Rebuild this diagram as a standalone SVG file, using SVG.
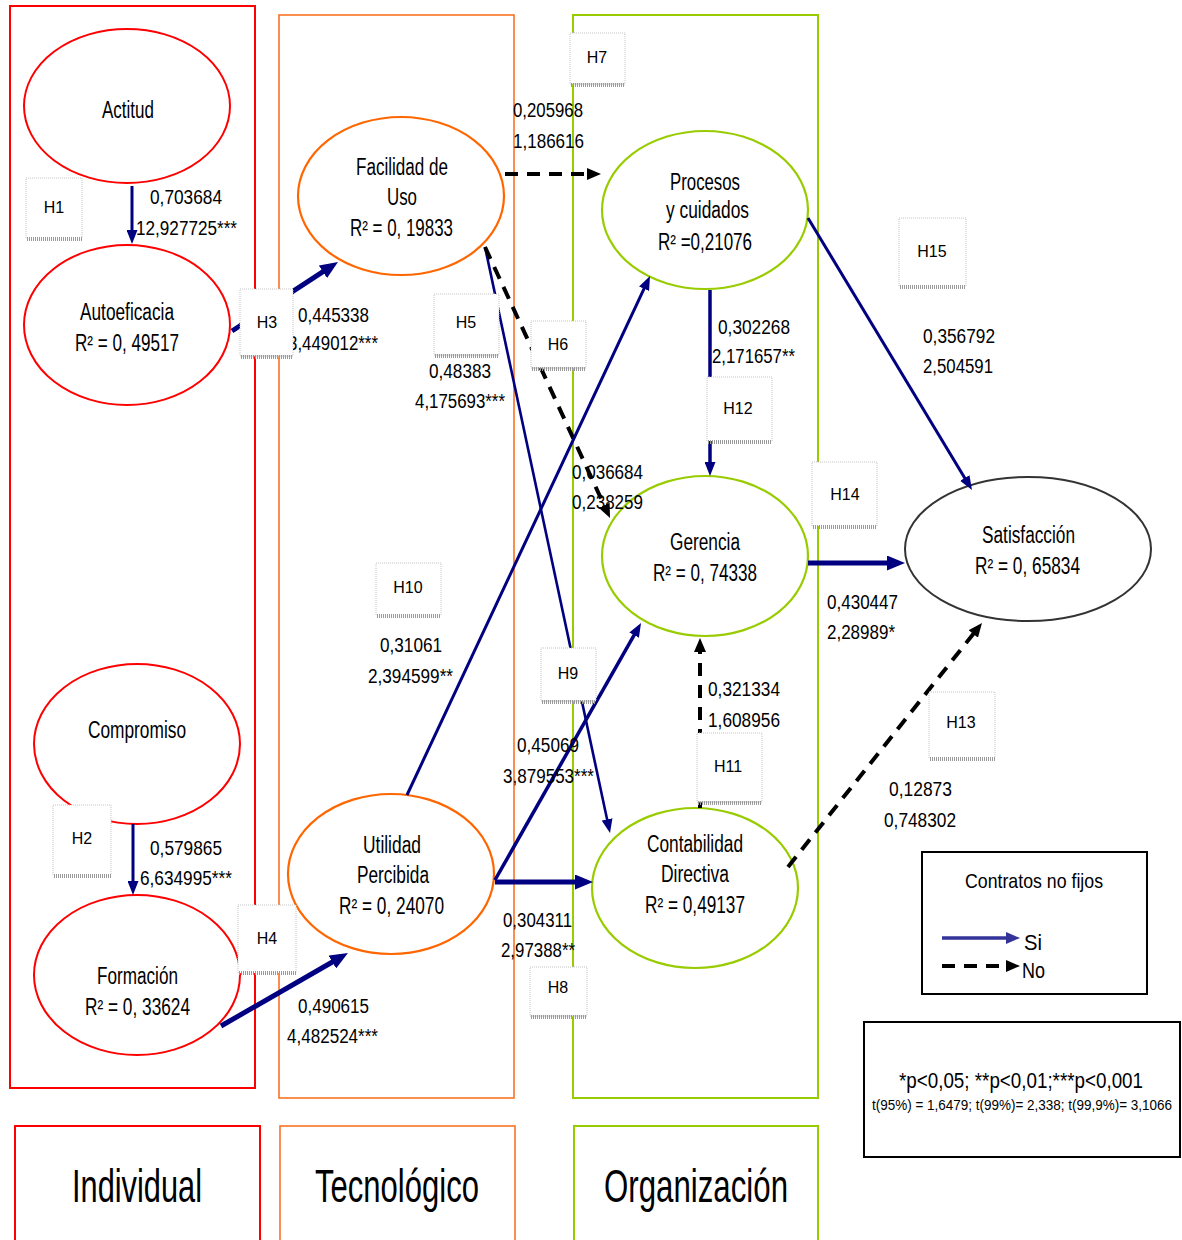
<svg xmlns="http://www.w3.org/2000/svg" width="1182" height="1240" viewBox="0 0 1182 1240">
<style>
text{font-family:'Liberation Sans Narrow','Arial Narrow','Liberation Sans',Arial,sans-serif;fill:#000}
.col-i{fill:none;stroke:#FF0000;stroke-width:2}
.col-t{fill:none;stroke:#FA7323;stroke-width:1.6}
.col-o{fill:none;stroke:#99CC00;stroke-width:2}
.e-i{fill:#fff;stroke:#FF0000;stroke-width:2}
.e-t{fill:#fff;stroke:#FF6600;stroke-width:2.2}
.e-o{fill:#fff;stroke:#99CC00;stroke-width:2.2}
.e-s{fill:#fff;stroke:#333;stroke-width:2}
.lbl{font-size:23px;text-anchor:middle}
.val{font-size:20px}
.h{font-size:16px;text-anchor:middle}
.hb{fill:#fff;stroke:#c4c4c4;stroke-width:1;stroke-dasharray:1 1}
.hs{stroke:#9a9a9a;stroke-width:4;stroke-dasharray:1 1}
.si{stroke:#000080;fill:none}
.no{stroke:#000;fill:none;stroke-width:4;stroke-dasharray:13 9}
.box{fill:#fff;stroke:#000;stroke-width:2}
.big{font-size:46px;text-anchor:middle}
</style>
<defs>
<marker id="aS" markerUnits="userSpaceOnUse" markerWidth="14" markerHeight="11" refX="2" refY="5.5" orient="auto" viewBox="0 0 14 11"><path d="M0,0 L14,5.5 L0,11 z" fill="#000080" stroke="none"/></marker>
<marker id="aL" markerUnits="userSpaceOnUse" markerWidth="18" markerHeight="15" refX="2" refY="7.5" orient="auto" viewBox="0 0 18 15"><path d="M0,0 L18,7.5 L0,15 z" fill="#000080" stroke="none"/></marker>
<marker id="aK" markerUnits="userSpaceOnUse" markerWidth="14" markerHeight="12" refX="2" refY="6" orient="auto" viewBox="0 0 14 12"><path d="M0,0 L14,6 L0,12 z" fill="#000" stroke="none"/></marker>
<marker id="aP" markerUnits="userSpaceOnUse" markerWidth="14" markerHeight="12" refX="2" refY="6" orient="auto" viewBox="0 0 14 12"><path d="M0,0 L14,6 L0,12 z" fill="#333399" stroke="none"/></marker>
</defs>
<rect width="1182" height="1240" fill="#fff"/>
<g id="columns">
<rect class="col-i" x="10" y="6" width="245" height="1082"/>
<rect class="col-t" x="279" y="15" width="235" height="1083"/>
<rect class="col-o" x="573" y="15" width="245" height="1083"/>
</g>
<g id="col-individual"><rect class="col-i" x="15" y="1126" width="245" height="140"/><text class="big" x="137" y="1202" textLength="130" lengthAdjust="spacingAndGlyphs">Individual</text></g>
<g id="col-tecnologico"><rect class="col-t" x="280" y="1126" width="235" height="140"/><text class="big" x="397" y="1202" textLength="164" lengthAdjust="spacingAndGlyphs">Tecnológico</text></g>
<g id="col-organizacion"><rect class="col-o" x="574" y="1126" width="244" height="140"/><text class="big" x="696" y="1202" textLength="184" lengthAdjust="spacingAndGlyphs">Organización</text></g>

<g id="actitud"><ellipse class="e-i" cx="127" cy="106" rx="103" ry="77"/><text class="lbl" x="128" y="118" textLength="52" lengthAdjust="spacingAndGlyphs">Actitud</text></g>
<g id="autoeficacia"><ellipse class="e-i" cx="127" cy="325" rx="103" ry="80"/><text class="lbl" x="127" y="320" textLength="94" lengthAdjust="spacingAndGlyphs">Autoeficacia</text><text class="lbl" x="127" y="351" textLength="104" lengthAdjust="spacingAndGlyphs">R² = 0, 49517</text></g>
<g id="compromiso"><ellipse class="e-i" cx="137" cy="744" rx="103" ry="80"/><text class="lbl" x="137" y="738" textLength="98" lengthAdjust="spacingAndGlyphs">Compromiso</text></g>
<g id="formacion"><ellipse class="e-i" cx="137" cy="975" rx="103" ry="80"/><text class="lbl" x="137.5" y="984" textLength="81" lengthAdjust="spacingAndGlyphs">Formación</text><text class="lbl" x="137.5" y="1015" textLength="105" lengthAdjust="spacingAndGlyphs">R² = 0, 33624</text></g>
<g id="facilidad"><ellipse class="e-t" cx="401" cy="196" rx="103" ry="79"/><text class="lbl" x="402" y="175" textLength="92" lengthAdjust="spacingAndGlyphs">Facilidad de</text><text class="lbl" x="402" y="205" textLength="30" lengthAdjust="spacingAndGlyphs">Uso</text><text class="lbl" x="401.5" y="236" textLength="103" lengthAdjust="spacingAndGlyphs">R² = 0, 19833</text></g>
<g id="utilidad"><ellipse class="e-t" cx="391" cy="874" rx="103" ry="80"/><text class="lbl" x="392" y="853" textLength="58" lengthAdjust="spacingAndGlyphs">Utilidad</text><text class="lbl" x="393" y="883" textLength="72" lengthAdjust="spacingAndGlyphs">Percibida</text><text class="lbl" x="391.5" y="914" textLength="105" lengthAdjust="spacingAndGlyphs">R² = 0, 24070</text></g>
<g id="procesos"><ellipse class="e-o" cx="705" cy="210" rx="103" ry="79"/><text class="lbl" x="705" y="190" textLength="70" lengthAdjust="spacingAndGlyphs">Procesos</text><text class="lbl" x="707.5" y="218" textLength="83" lengthAdjust="spacingAndGlyphs">y cuidados</text><text class="lbl" x="705" y="250" textLength="94" lengthAdjust="spacingAndGlyphs">R² =0,21076</text></g>
<g id="gerencia"><ellipse class="e-o" cx="705" cy="556" rx="103" ry="80"/><text class="lbl" x="705" y="550" textLength="70" lengthAdjust="spacingAndGlyphs">Gerencia</text><text class="lbl" x="705" y="581" textLength="104" lengthAdjust="spacingAndGlyphs">R² = 0, 74338</text></g>
<g id="contabilidad"><ellipse class="e-o" cx="695" cy="888" rx="103" ry="80"/><text class="lbl" x="695" y="852" textLength="96" lengthAdjust="spacingAndGlyphs">Contabilidad</text><text class="lbl" x="695" y="882" textLength="68" lengthAdjust="spacingAndGlyphs">Directiva</text><text class="lbl" x="695" y="913" textLength="100" lengthAdjust="spacingAndGlyphs">R² = 0,49137</text></g>
<g id="satisfaccion"><ellipse class="e-s" cx="1028" cy="549" rx="123" ry="72"/><text class="lbl" x="1028.5" y="543" textLength="93" lengthAdjust="spacingAndGlyphs">Satisfacción</text><text class="lbl" x="1027.5" y="574" textLength="105" lengthAdjust="spacingAndGlyphs">R² = 0, 65834</text></g>

<g id="connectors">
<line class="si" stroke-width="3" x1="132" y1="186" x2="132" y2="232" marker-end="url(#aS)"/>
<line class="si" stroke-width="3" x1="133" y1="824" x2="133" y2="883" marker-end="url(#aS)"/>
<line class="si" stroke-width="5" x1="232" y1="331" x2="324.6" y2="270.7" marker-end="url(#aL)"/>
<line class="si" stroke-width="5" x1="221" y1="1026" x2="334.1" y2="961" marker-end="url(#aL)"/>
<line class="no" x1="505" y1="174" x2="589" y2="174" marker-end="url(#aK)"/>
<line class="si" stroke-width="2.6" x1="485" y1="247" x2="607.5" y2="821.3" marker-end="url(#aS)"/>
<line class="no" x1="485" y1="247" x2="605" y2="507.1" marker-end="url(#aK)"/>
<line class="si" stroke-width="3" x1="407" y1="795" x2="644.9" y2="286.9" marker-end="url(#aS)"/>
<line class="si" stroke-width="3.5" x1="710" y1="290" x2="710" y2="464" marker-end="url(#aS)"/>
<line class="si" stroke-width="3" x1="808" y1="218" x2="965.8" y2="479.7" marker-end="url(#aS)"/>
<line class="si" stroke-width="5" x1="808" y1="563" x2="889" y2="563" marker-end="url(#aL)"/>
<line class="no" x1="700" y1="808" x2="700" y2="650" marker-end="url(#aK)"/>
<line class="no" x1="788" y1="867" x2="974.5" y2="632.4" marker-end="url(#aK)"/>
<line class="si" stroke-width="3.5" x1="495" y1="880" x2="635.1" y2="633.4" marker-end="url(#aS)"/>
<line class="si" stroke-width="5" x1="495" y1="882" x2="577" y2="882" marker-end="url(#aL)"/>
</g>

<g id="path-values" class="val">
<text x="150" y="204" textLength="72" lengthAdjust="spacingAndGlyphs">0,703684</text>
<text x="136" y="235" textLength="101" lengthAdjust="spacingAndGlyphs">12,927725***</text>
<text x="298" y="322" textLength="71" lengthAdjust="spacingAndGlyphs">0,445338</text>
<text x="288" y="350" textLength="90" lengthAdjust="spacingAndGlyphs">3,449012***</text>
<text x="513" y="117" textLength="70" lengthAdjust="spacingAndGlyphs">0,205968</text>
<text x="513" y="148" textLength="71" lengthAdjust="spacingAndGlyphs">1,186616</text>
<text x="429" y="378" textLength="62" lengthAdjust="spacingAndGlyphs">0,48383</text>
<text x="415" y="408" textLength="90" lengthAdjust="spacingAndGlyphs">4,175693***</text>
<text x="572" y="479" textLength="71" lengthAdjust="spacingAndGlyphs">0,036684</text>
<text x="572" y="509" textLength="71" lengthAdjust="spacingAndGlyphs">0,238259</text>
<text x="718" y="334" textLength="72" lengthAdjust="spacingAndGlyphs">0,302268</text>
<text x="712" y="363" textLength="83" lengthAdjust="spacingAndGlyphs">2,171657**</text>
<text x="923" y="343" textLength="72" lengthAdjust="spacingAndGlyphs">0,356792</text>
<text x="923" y="373" textLength="70" lengthAdjust="spacingAndGlyphs">2,504591</text>
<text x="827" y="609" textLength="71" lengthAdjust="spacingAndGlyphs">0,430447</text>
<text x="827" y="639" textLength="68" lengthAdjust="spacingAndGlyphs">2,28989*</text>
<text x="380" y="652" textLength="62" lengthAdjust="spacingAndGlyphs">0,31061</text>
<text x="368" y="683" textLength="85" lengthAdjust="spacingAndGlyphs">2,394599**</text>
<text x="517" y="752" textLength="62" lengthAdjust="spacingAndGlyphs">0,45069</text>
<text x="503" y="783" textLength="91" lengthAdjust="spacingAndGlyphs">3,879553***</text>
<text x="708" y="696" textLength="72" lengthAdjust="spacingAndGlyphs">0,321334</text>
<text x="708" y="727" textLength="72" lengthAdjust="spacingAndGlyphs">1,608956</text>
<text x="150" y="855" textLength="72" lengthAdjust="spacingAndGlyphs">0,579865</text>
<text x="140" y="885" textLength="92" lengthAdjust="spacingAndGlyphs">6,634995***</text>
<text x="503" y="927" textLength="69" lengthAdjust="spacingAndGlyphs">0,304311</text>
<text x="501" y="957" textLength="74" lengthAdjust="spacingAndGlyphs">2,97388**</text>
<text x="298" y="1013" textLength="71" lengthAdjust="spacingAndGlyphs">0,490615</text>
<text x="287" y="1043" textLength="91" lengthAdjust="spacingAndGlyphs">4,482524***</text>
<text x="889" y="796" textLength="63" lengthAdjust="spacingAndGlyphs">0,12873</text>
<text x="884" y="827" textLength="72" lengthAdjust="spacingAndGlyphs">0,748302</text>
</g>

<g id="hypotheses">
<g id="h1"><rect class="hb" x="26" y="178" width="56" height="60"/><line class="hs" x1="27" y1="239" x2="82" y2="239"/><text class="h" x="54" y="213">H1</text></g>
<g id="h2"><rect class="hb" x="53" y="805" width="58" height="70"/><line class="hs" x1="54" y1="876" x2="111" y2="876"/><text class="h" x="82" y="844">H2</text></g>
<g id="h3"><rect class="hb" x="240" y="289" width="53" height="67"/><line class="hs" x1="241" y1="357" x2="293" y2="357"/><text class="h" x="267" y="328">H3</text></g>
<g id="h4"><rect class="hb" x="238" y="905" width="58" height="68"/><line class="hs" x1="239" y1="973" x2="296" y2="973"/><text class="h" x="267" y="944">H4</text></g>
<g id="h5"><rect class="hb" x="434" y="294" width="65" height="61"/><line class="hs" x1="435" y1="356" x2="499" y2="356"/><text class="h" x="466" y="328">H5</text></g>
<g id="h6"><rect class="hb" x="531" y="321" width="55" height="47"/><line class="hs" x1="532" y1="369" x2="586" y2="369"/><text class="h" x="558" y="350">H6</text></g>
<g id="h7"><rect class="hb" x="570" y="33" width="55" height="51"/><line class="hs" x1="571" y1="85" x2="625" y2="85"/><text class="h" x="597" y="63">H7</text></g>
<g id="h8"><rect class="hb" x="530" y="967" width="57" height="49"/><line class="hs" x1="531" y1="1017" x2="587" y2="1017"/><text class="h" x="558" y="993">H8</text></g>
<g id="h9"><rect class="hb" x="541" y="648" width="55" height="53"/><line class="hs" x1="542" y1="702" x2="596" y2="702"/><text class="h" x="568" y="679">H9</text></g>
<g id="h10"><rect class="hb" x="376" y="563" width="65" height="52"/><line class="hs" x1="377" y1="616" x2="441" y2="616"/><text class="h" x="408" y="593">H10</text></g>
<g id="h11"><rect class="hb" x="697" y="733" width="65" height="69"/><line class="hs" x1="698" y1="803" x2="762" y2="803"/><text class="h" x="728" y="772">H11</text></g>
<g id="h12"><rect class="hb" x="707" y="377" width="65" height="64"/><line class="hs" x1="708" y1="442" x2="772" y2="442"/><text class="h" x="738" y="414">H12</text></g>
<g id="h13"><rect class="hb" x="929" y="692" width="66" height="66"/><line class="hs" x1="930" y1="759" x2="995" y2="759"/><text class="h" x="961" y="728">H13</text></g>
<g id="h14"><rect class="hb" x="812" y="462" width="65" height="64"/><line class="hs" x1="813" y1="527" x2="877" y2="527"/><text class="h" x="845" y="500">H14</text></g>
<g id="h15"><rect class="hb" x="899" y="218" width="67" height="68"/><line class="hs" x1="900" y1="287" x2="966" y2="287"/><text class="h" x="932" y="257">H15</text></g>
</g>

<g id="legend-contratos">
<rect class="box" x="922" y="852" width="225" height="142"/>
<text x="965" y="888" font-size="21" textLength="138" lengthAdjust="spacingAndGlyphs">Contratos  no fijos</text>
<line x1="942" y1="938" x2="1008" y2="938" stroke="#333399" stroke-width="3.5" marker-end="url(#aP)"/>
<text x="1024" y="950" font-size="22" textLength="18" lengthAdjust="spacingAndGlyphs">Si</text>
<line class="no" x1="942" y1="966" x2="1008" y2="966" stroke-dasharray="12 8" marker-end="url(#aK)"/>
<text x="1022" y="978" font-size="22" textLength="23" lengthAdjust="spacingAndGlyphs">No</text>
</g>
<g id="legend-significance">
<rect class="box" x="864" y="1022" width="316" height="135"/>
<text x="1021" y="1088" font-size="22" text-anchor="middle" textLength="244" lengthAdjust="spacingAndGlyphs">*p&lt;0,05; **p&lt;0,01;***p&lt;0,001</text>
<text x="1022" y="1110" font-size="14" text-anchor="middle" textLength="300" lengthAdjust="spacingAndGlyphs">t(95%) = 1,6479;  t(99%)= 2,338;  t(99,9%)= 3,1066</text>
</g>
</svg>
